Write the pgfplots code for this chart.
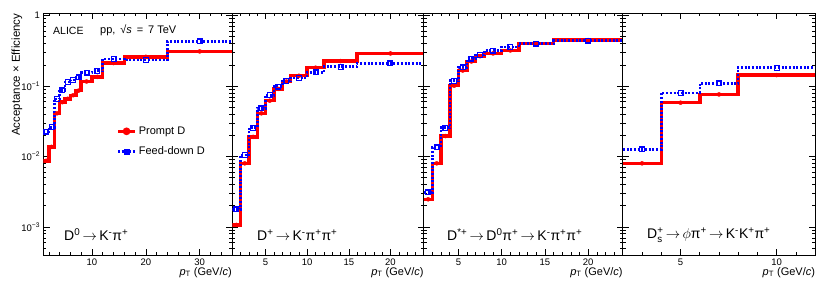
\documentclass[border=0pt]{standalone}
\usepackage{amsmath}
\usepackage{pgfplots}
\pgfplotsset{compat=1.18}
\usepackage{fontspec}
\setmainfont{Liberation Sans}

\pgfplotsset{
  every axis/.append style={
    scale only axis, height=241.5pt, anchor=south west,
    ymin=4e-4, ymax=1.07,
    tick align=inside,
    axis line style={line width=0.8pt},
    every tick/.style={black, line width=0.6pt},
    major tick length=6pt, minor tick length=3pt,
    ytick={1e-3,1e-2,1e-1,1},
    minor ytick={5e-4,6e-4,7e-4,8e-4,9e-4,2e-3,3e-3,4e-3,5e-3,6e-3,7e-3,8e-3,9e-3,2e-2,3e-2,4e-2,5e-2,6e-2,7e-2,8e-2,9e-2,2e-1,3e-1,4e-1,5e-1,6e-1,7e-1,8e-1,9e-1},
    tick label style={font=\fontsize{9.5}{10}\selectfont},
    /pgf/number format/assume math mode=true,
    xlabel={\textit{p}\textsubscript{T} (GeV/\textit{c})},
    xlabel style={at={(axis description cs:1,0)}, anchor=north east, yshift=-12pt, font=\fontsize{11}{12}\selectfont, inner sep=0pt},
  },
}
\tikzset{
  promptline/.style={red, line width=3.5pt, const plot, mark=none},
  feedline/.style={blue, line width=2.5pt, const plot, mark=none, dash pattern=on 2pt off 1.7pt},
  pmark/.style={only marks, red, mark=*, mark size=2pt},
  fmark/.style={only marks, blue, mark=square, mark size=2.4pt, mark options={line width=1.2pt, solid}},
}
\newcommand{\ar}{\,$\rightarrow$\,}

\begin{document}
\begin{tikzpicture}
\path[use as bounding box] (0pt,0pt) rectangle (830pt,293pt);

% ---------- Panel 1: D0 ----------
\begin{semilogyaxis}[at={(43.5pt,38pt)}, width=188.5pt, xmin=1, xmax=36,
  xtick={10,20,30}, minor xtick={2,4,6,8,12,14,16,18,22,24,26,28,32,34},
  yticklabels={10\textsuperscript{−3},10\textsuperscript{−2},10\textsuperscript{−1},1},
  ylabel={Acceptance × Efficiency},
  ylabel style={at={(axis description cs:-0.112,1)}, anchor=south east, font=\fontsize{11.5}{12}\selectfont, inner sep=0pt},
  legend style={at={(axis description cs:0.385,0.54)}, anchor=north west, draw=none, fill=none,
    font=\fontsize{11}{12}\selectfont, row sep=7pt, inner sep=0pt},
  legend cell align=left,
]
\addlegendimage{red, line width=3.5pt, mark=*, mark size=2pt, mark options={solid}}
\addlegendentry{Prompt D}
\addlegendimage{blue, line width=2.5pt, dash pattern=on 2pt off 1.7pt, mark=square, mark size=2.4pt, mark options={solid, line width=1.2pt}}
\addlegendentry{Feed-down D}
\addplot[promptline, forget plot] coordinates {(1,0.0087)(2,0.0137)(3,0.041)(4,0.059)(5,0.066)(6,0.074)(7,0.086)(8,0.116)(10,0.135)(12,0.212)(16,0.26)(24,0.31)(36,0.31)};
\addplot[pmark, forget plot] coordinates {(1.5,0.0087)(2.5,0.0137)(3.5,0.041)(4.5,0.059)(5.5,0.066)(6.5,0.074)(7.5,0.086)(9,0.116)(11,0.135)(14,0.212)(20,0.26)(30,0.31)};
\addplot[feedline, forget plot] coordinates {(1,0.0225)(2,0.026)(3,0.066)(4,0.087)(5,0.114)(6,0.122)(7,0.133)(8,0.155)(10,0.165)(12,0.24)(16,0.234)(24,0.43)(36,0.43)};
\addplot[fmark, forget plot] coordinates {(1.5,0.0225)(2.5,0.026)(3.5,0.066)(4.5,0.087)(5.5,0.114)(6.5,0.122)(7.5,0.133)(9,0.155)(11,0.165)(14,0.24)(20,0.234)(30,0.43)};
\end{semilogyaxis}

% ---------- Panel 2: D+ ----------
\begin{semilogyaxis}[at={(232.3pt,38pt)}, width=191.5pt, xmin=1, xmax=24, yticklabels={},
  xtick={5,10,15,20}, minor xtick={2,3,4,6,7,8,9,11,12,13,14,16,17,18,19,21,22,23}]
\addplot[promptline] coordinates {(1,0.00107)(2,0.0080)(3,0.019)(4,0.041)(5,0.062)(6,0.091)(7,0.116)(8,0.14)(10,0.182)(12,0.226)(16,0.29)(24,0.29)};
\addplot[pmark] coordinates {(1.5,0.00107)(2.5,0.0080)(3.5,0.019)(4.5,0.041)(5.5,0.062)(6.5,0.091)(7.5,0.116)(9,0.14)(11,0.182)(14,0.226)(20,0.29)};
\addplot[feedline] coordinates {(1,0.00178)(2,0.0105)(3,0.0256)(4,0.048)(5,0.074)(6,0.098)(7,0.118)(8,0.131)(10,0.156)(12,0.188)(16,0.21)(24,0.21)};
\addplot[fmark] coordinates {(1.5,0.00178)(2.5,0.0105)(3.5,0.0256)(4.5,0.048)(5.5,0.074)(6.5,0.098)(7.5,0.118)(9,0.131)(11,0.156)(14,0.188)(20,0.21)};
\end{semilogyaxis}

% ---------- Panel 3: D*+ ----------
\begin{semilogyaxis}[at={(423.8pt,38pt)}, width=199pt, xmin=1, xmax=24, yticklabels={},
  xtick={5,10,15,20}, minor xtick={2,3,4,6,7,8,9,11,12,13,14,16,17,18,19,21,22,23}]
\addplot[promptline] coordinates {(1,0.00247)(2,0.0080)(3,0.0195)(4,0.101)(5,0.166)(6,0.223)(7,0.265)(8,0.29)(10,0.32)(12,0.40)(16,0.45)(24,0.45)};
\addplot[pmark] coordinates {(1.5,0.00247)(2.5,0.0080)(3.5,0.0195)(4.5,0.101)(5.5,0.166)(6.5,0.223)(7.5,0.265)(9,0.29)(11,0.32)(14,0.40)(20,0.45)};
\addplot[feedline] coordinates {(1,0.0031)(2,0.0135)(3,0.0256)(4,0.119)(5,0.184)(6,0.245)(7,0.275)(8,0.318)(10,0.357)(12,0.40)(16,0.44)(24,0.44)};
\addplot[fmark] coordinates {(1.5,0.0031)(2.5,0.0135)(3.5,0.0256)(4.5,0.119)(5.5,0.184)(6.5,0.245)(7.5,0.275)(9,0.318)(11,0.357)(14,0.40)(20,0.44)};
\end{semilogyaxis}

% ---------- Panel 4: Ds+ ----------
\begin{semilogyaxis}[at={(622.8pt,38pt)}, width=192.4pt, xmin=2, xmax=12, yticklabels={},
  xtick={5,10}, minor xtick={3,4,6,7,8,9,11}]
\addplot[promptline] coordinates {(2,0.0080)(4,0.058)(6,0.076)(8,0.143)(12,0.143)};
\addplot[pmark] coordinates {(3,0.0080)(5,0.058)(7,0.076)(10,0.143)};
\addplot[feedline] coordinates {(2,0.0126)(4,0.080)(6,0.109)(8,0.182)(12,0.182)};
\addplot[fmark] coordinates {(3,0.0126)(5,0.080)(7,0.109)(10,0.182)};
\end{semilogyaxis}

% ---------- Text ----------
\node[anchor=west, inner sep=0pt, font=\fontsize{10.5}{12}\selectfont] at (53pt,262.3pt) {ALICE};
\node[anchor=west, inner sep=0pt, font=\fontsize{11}{12}\selectfont] at (100pt,262.3pt) {pp, \,√\textit{s}\, = \,7 TeV};
\node[anchor=west, inner sep=0pt, font=\fontsize{14}{16}\selectfont] at (64pt,58pt) {D\textsuperscript{0}\ar K\textsuperscript{-}π\textsuperscript{+}};
\node[anchor=west, inner sep=0pt, font=\fontsize{14}{16}\selectfont] at (257pt,58pt) {D\textsuperscript{+}\ar K\textsuperscript{-}π\textsuperscript{+}π\textsuperscript{+}};
\node[anchor=west, inner sep=0pt, font=\fontsize{14}{16}\selectfont] at (447pt,58pt) {D\textsuperscript{*+}\ar D\textsuperscript{0}π\textsuperscript{+}\ar K\textsuperscript{-}π\textsuperscript{+}π\textsuperscript{+}};
\node[anchor=west, inner sep=0pt, font=\fontsize{14}{16}\selectfont] at (647pt,58pt) {D\(^{\text{+}}_{\text{s}}\)\ar \(\phi\)π\textsuperscript{+}\ar K\textsuperscript{-}K\textsuperscript{+}π\textsuperscript{+}};
\end{tikzpicture}
\end{document}
